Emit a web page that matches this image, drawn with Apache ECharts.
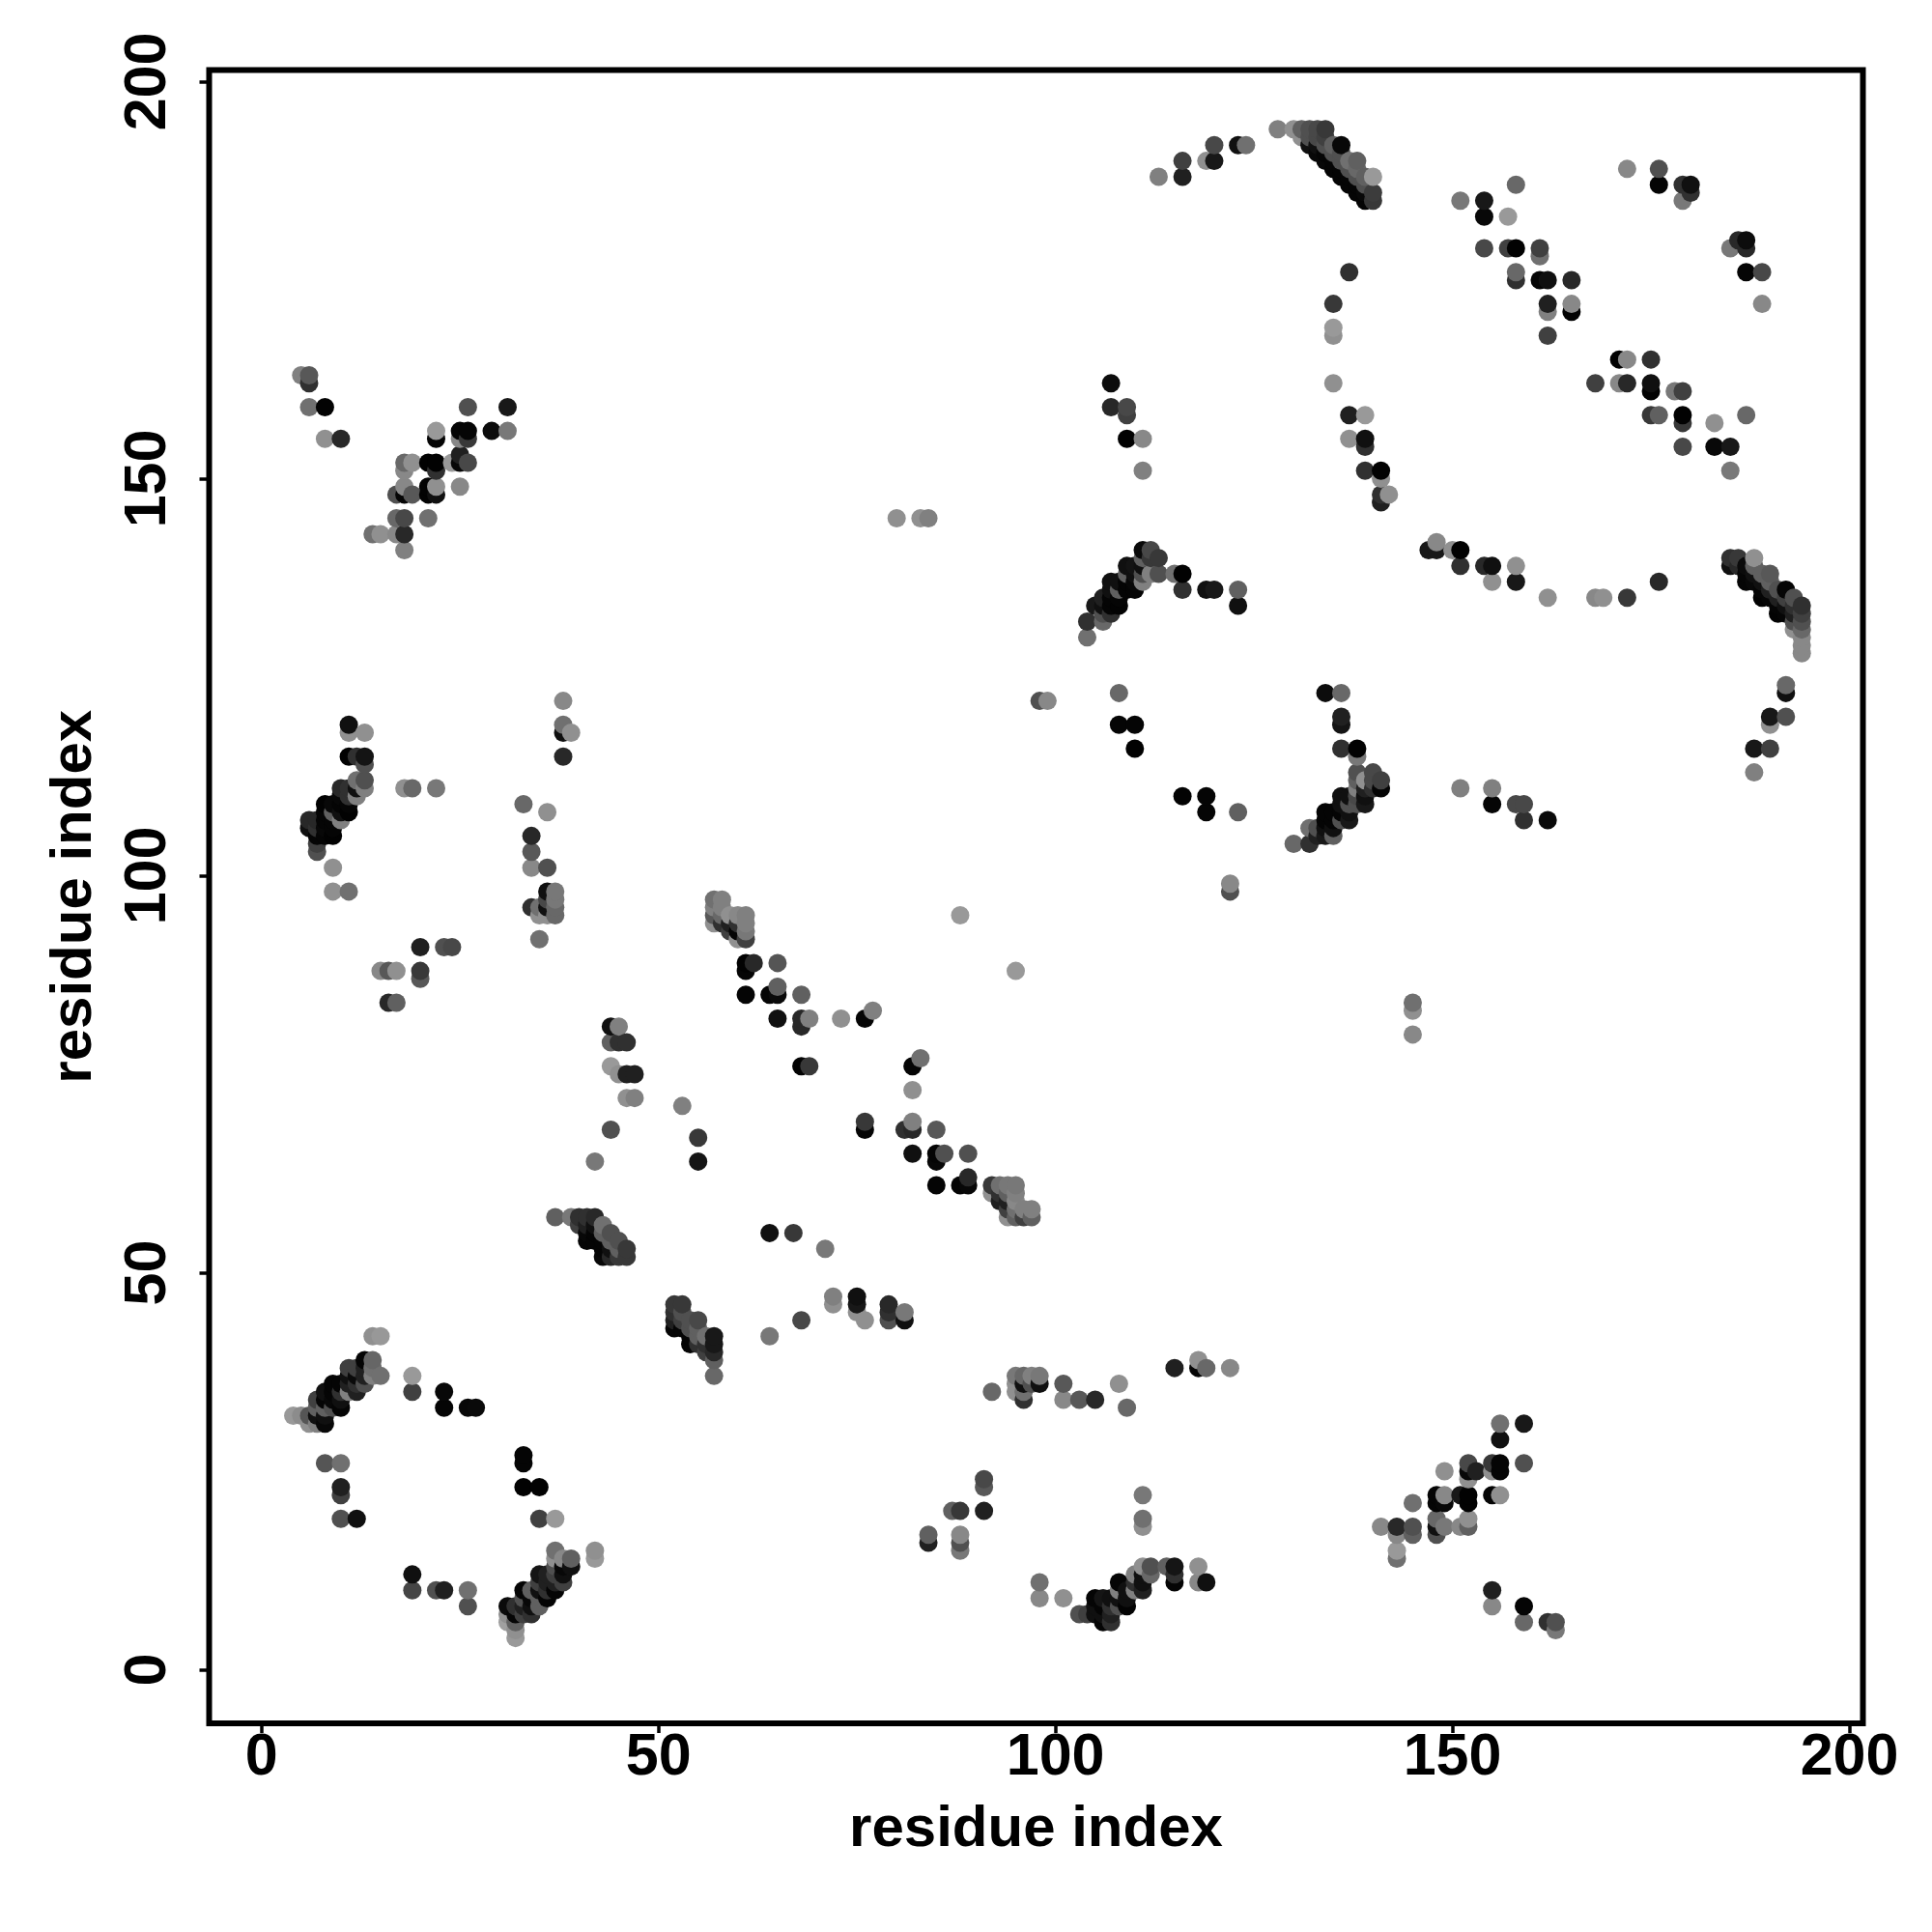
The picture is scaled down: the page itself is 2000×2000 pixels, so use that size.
<!DOCTYPE html>
<html><head><meta charset="utf-8">
<script src="https://cdn.jsdelivr.net/npm/echarts@6/dist/echarts.min.js"></script>
<style>html,body{margin:0;padding:0;background:#fff}#c{width:2000px;height:2000px}</style>
</head><body><div id="c"></div>
<script>
// each contact: [residue i, residue j, grey shade]
const contactsA = [[4,32,0x99],[5,32,0x8c],[6,32,0x55],[6,31,0x90],[7,31,0x80],[7,34,0x40],[7,33,0x60],[7,32,0x10],[8,31,0x08],[8,35,0x10],[8,34,0x05],[8,33,0x60],[8,32,0x10],[9,36,0x05],[9,35,0x05],[9,34,0x08],[9,33,0x50],[10,33,0x05],[10,34,0x10],[10,35,0x30],[10,36,0x05],[11,35,0x80],[11,36,0x20],[11,37,0x10],[11,38,0x40],[12,35,0x20],[12,36,0x30],[12,37,0x0a],[12,38,0x40],[13,36,0x50],[13,37,0x20],[13,38,0x20],[13,39,0x05],[14,37,0x80],[14,38,0x70],[14,39,0x66],[15,37,0x70],[14,42,0x90],[15,42,0x98],[19,37,0x99],[19,35,0x40],[23,35,0x08],[23,33,0x05],[26,33,0x08],[27,33,0x0a],[8,26,0x55],[10,26,0x70],[10,22,0x40],[10,23,0x20],[10,19,0x50],[12,19,0x10],[33,27,0x05],[33,26,0x05],[33,23,0x02],[35,23,0x02],[35,19,0x40],[37,19,0x99],[19,12,0x10],[19,10,0x45],[22,10,0x50],[23,10,0x20],[26,10,0x70],[26,8,0x50]];
const contactsB = [[32,4,0x99],[32,5,0x90],[32,6,0x60],[31,6,0xa0],[31,7,0x90],[31,8,0x0a],[32,7,0x05],[32,8,0x30],[33,7,0x40],[33,8,0x20],[33,9,0x50],[33,10,0x05],[34,7,0x30],[34,8,0x10],[34,9,0x08],[34,10,0x60],[35,8,0x60],[35,9,0x60],[35,10,0x10],[35,11,0x40],[35,12,0x15],[36,9,0x05],[36,10,0x30],[36,11,0x20],[36,12,0x20],[37,10,0x05],[37,11,0x20],[37,12,0x40],[37,13,0x50],[37,14,0x90],[37,15,0x70],[38,11,0x40],[38,12,0x10],[38,13,0x08],[38,14,0x88],[39,13,0x10],[39,14,0x60],[42,15,0x90],[42,14,0x99]];
const contactsC = [[113,188,0x80],[116,190,0x40],[116,188,0x20],[119,190,0x90],[120,190,0x18],[120,192,0x48],[123,192,0x10],[124,192,0x70],[128,194,0x80],[130,194,0x90],[131,194,0x60],[132,194,0x50],[133,194,0x48],[134,194,0x38],[131,193,0x90],[132,193,0x50],[133,193,0x48],[134,193,0x40],[132,192,0x10],[133,192,0x10],[134,192,0x50],[135,192,0x60],[136,192,0x08],[133,191,0x08],[134,191,0x05],[135,191,0x50],[136,191,0x50],[134,190,0x08],[135,190,0x05],[136,190,0x50],[137,190,0x70],[135,189,0x05],[136,189,0x05],[137,189,0x50],[138,189,0x68],[138,190,0x60],[136,188,0x05],[137,188,0x05],[138,188,0x50],[139,188,0x60],[140,188,0x99],[137,187,0x05],[138,187,0x05],[139,187,0x50],[138,186,0x05],[139,186,0x08],[140,186,0x3c],[139,185,0x05],[140,185,0x38],[137,176,0x30],[135,172,0x38],[135,169,0x99],[135,168,0x90],[135,162,0x90],[137,158,0x20],[139,158,0x99],[137,155,0x90],[139,155,0x10],[139,154,0x30],[139,151,0x30],[141,151,0x02],[141,150,0x90],[141,148,0x30],[142,148,0x90],[141,147,0x20],[107,162,0x0c],[107,159,0x28],[109,159,0x48],[109,158,0x40],[109,155,0x02],[111,155,0x88],[111,151,0x80]];
const contactsD = [[151,185,0x78],[154,185,0x18],[154,183,0x08],[157,183,0x99],[158,187,0x68],[154,179,0x48],[157,179,0x40],[158,179,0x02],[161,179,0x40],[161,178,0x70],[158,176,0x68],[158,175,0x30],[161,175,0x05],[162,175,0x10],[165,175,0x28],[162,172,0x20],[162,171,0x80],[165,172,0x88],[165,171,0x02],[162,168,0x40],[171,165,0x02],[172,165,0x88],[175,165,0x30],[168,162,0x40],[171,162,0x88],[172,162,0x28],[175,162,0x10],[175,161,0x03],[178,161,0x78],[179,161,0x40],[175,158,0x38],[176,158,0x60],[179,158,0x02],[179,157,0x38],[183,157,0x90],[187,158,0x68],[179,154,0x48],[183,154,0x08],[185,154,0x18],[185,151,0x78],[172,189,0x88],[176,189,0x50],[176,187,0x05],[179,187,0x30],[180,187,0x10],[180,186,0x30],[179,185,0x78],[185,179,0x78],[186,180,0x28],[187,179,0x28],[187,180,0x0c],[187,176,0x05],[189,176,0x48],[189,172,0x88]];
const contactsE = [[5,163,0x80],[6,163,0x58],[6,162,0x30],[6,159,0x70],[8,159,0x03],[8,155,0x90],[10,155,0x28],[26,159,0x50],[31,159,0x18],[22,156,0x99],[22,155,0x05],[25,156,0x05],[26,156,0x05],[25,155,0x88],[26,155,0x38],[29,156,0x0c],[31,156,0x78],[25,153,0x20],[25,152,0x08],[26,152,0x48],[24,152,0x99],[21,152,0x02],[22,152,0x02],[22,151,0x30],[18,152,0x68],[19,152,0x90],[18,151,0x88],[18,149,0x88],[19,148,0x58],[17,148,0x50],[18,148,0x05],[21,149,0x03],[21,148,0x03],[22,148,0x10],[22,149,0x90],[25,149,0x88],[21,145,0x70],[17,145,0x68],[18,145,0x48],[14,143,0x70],[15,143,0x90],[17,143,0x88],[18,143,0x28],[18,141,0x80]];
const contactsF = [[38,122,0x88],[38,119,0x70],[38,118,0x10],[39,118,0x90],[38,115,0x28],[11,119,0x10],[11,118,0x90],[13,118,0x90],[11,115,0x02],[12,115,0x30],[13,115,0x14],[13,114,0x50],[18,111,0x90],[19,111,0x68],[22,111,0x78],[12,112,0x70],[13,112,0x50],[13,111,0x80],[12,110,0x80],[12,111,0x10],[11,108,0x02],[11,109,0x05],[11,110,0x30],[11,111,0x30],[10,107,0x80],[10,108,0x10],[10,109,0x05],[10,110,0x08],[10,111,0x28],[9,105,0x02],[9,106,0x05],[9,107,0x05],[9,108,0x60],[9,109,0x08],[8,105,0x05],[8,106,0x08],[8,107,0x05],[8,108,0x05],[8,109,0x02],[7,103,0x50],[7,104,0x40],[7,105,0x05],[7,106,0x30],[7,107,0x28],[6,106,0x10],[6,107,0x28],[9,101,0x90],[9,98,0x90],[11,98,0x70],[33,109,0x68],[36,108,0x90],[34,105,0x28],[34,103,0x58],[34,101,0x88],[36,101,0x50],[36,98,0x10],[37,98,0x78],[37,97,0x78],[37,96,0x68],[37,95,0x68],[34,96,0x30],[35,96,0x70],[35,95,0x90],[36,95,0x90],[36,96,0x10],[36,97,0x48],[35,92,0x70],[20,91,0x20],[23,91,0x50],[24,91,0x48],[15,88,0x88],[16,88,0x58],[17,88,0x90],[20,88,0x38],[20,87,0x58],[16,84,0x28],[17,84,0x60]];
const contactsG = [[104,130,0x70],[104,132,0x30],[106,132,0x68],[105,134,0x18],[106,135,0x20],[106,133,0x50],[106,134,0x10],[107,133,0x30],[107,134,0x05],[107,135,0x05],[107,136,0x10],[107,137,0x10],[108,134,0x03],[108,135,0x05],[108,136,0x60],[108,137,0x10],[109,136,0x05],[109,137,0x05],[109,138,0x60],[109,139,0x10],[110,136,0x05],[110,137,0x08],[110,138,0x10],[110,139,0x14],[111,137,0x80],[111,138,0x50],[111,139,0x10],[111,140,0x60],[111,141,0x0a],[112,138,0x80],[112,140,0x38],[112,141,0x48],[113,138,0x50],[113,140,0x38],[115,138,0x70],[116,138,0x02],[116,136,0x30],[119,136,0x10],[120,136,0x18],[123,136,0x60],[123,134,0x10],[108,123,0x68],[108,119,0x05],[110,119,0x05],[110,116,0x02],[116,110,0x03],[119,110,0x05],[119,108,0x05],[123,108,0x60],[122,99,0x88],[122,98,0x50],[134,123,0x0c],[136,123,0x68],[136,120,0x20],[136,119,0x14],[136,116,0x30],[138,116,0x02],[138,115,0x78],[138,113,0x50],[140,113,0x48],[141,112,0x40],[141,111,0x05],[139,112,0x90],[140,112,0x48],[138,112,0x60],[138,111,0x80],[139,111,0x20],[140,111,0x30],[139,109,0x18],[139,110,0x10],[138,109,0x50],[138,110,0x48],[137,107,0x18],[137,108,0x10],[137,109,0x50],[137,110,0x10],[136,107,0x50],[136,108,0x05],[136,109,0x10],[136,110,0x10],[135,105,0x60],[135,106,0x10],[135,107,0x05],[135,108,0x05],[134,105,0x18],[134,106,0x10],[134,107,0x05],[134,108,0x05],[132,106,0x70],[133,106,0x50],[133,105,0x20],[132,104,0x30],[130,104,0x68]];
const contactsH = [[147,141,0x18],[148,141,0x18],[148,142,0x88],[150,141,0x90],[151,141,0x02],[151,139,0x30],[154,139,0x28],[155,139,0x10],[155,137,0x90],[158,139,0x90],[158,137,0x18],[162,135,0x90],[168,135,0x88],[169,135,0x90],[172,135,0x38],[176,137,0x28],[185,140,0x30],[186,140,0x38],[185,139,0x10],[186,139,0x28],[188,140,0x90],[187,137,0x05],[187,138,0x05],[187,139,0x0a],[188,137,0x08],[188,138,0x10],[188,139,0x60],[189,135,0x02],[189,136,0x05],[189,137,0x10],[189,138,0x60],[190,135,0x05],[190,136,0x20],[190,137,0x60],[190,138,0x58],[191,133,0x03],[191,134,0x05],[191,135,0x20],[191,136,0x50],[192,133,0x05],[192,134,0x10],[192,135,0x40],[192,136,0x05],[193,131,0x90],[193,132,0x50],[193,133,0x20],[193,134,0x30],[193,135,0x50],[194,134,0x30],[194,133,0x40],[194,132,0x50],[194,131,0x68],[194,130,0x88],[194,129,0x88],[194,128,0x88],[192,124,0x68],[192,123,0x10],[190,120,0x18],[192,120,0x50],[190,119,0x90],[188,116,0x18],[190,116,0x40],[188,113,0x80],[151,111,0x80],[155,111,0x80],[155,109,0x05],[158,109,0x48],[159,109,0x48],[159,107,0x30],[162,107,0x0a],[145,84,0x70],[145,83,0x90],[145,80,0x88],[80,145,0x90],[83,145,0x90],[84,145,0x80],[98,122,0x50],[99,122,0x88]];
const contactsI = [[88,95,0x99],[95,88,0x99],[57,97,0x70],[58,97,0x80],[57,96,0x80],[58,96,0x80],[57,95,0x58],[57,94,0x90],[58,95,0x68],[58,94,0x30],[59,95,0x90],[60,95,0x88],[61,95,0x80],[61,94,0x80],[61,93,0x78],[60,94,0x30],[59,94,0x20],[59,93,0x40],[60,93,0x05],[60,92,0x90],[61,92,0x40],[61,89,0x02],[62,89,0x28],[61,88,0x05],[65,89,0x55],[61,85,0x05],[64,85,0x05],[65,85,0x0a],[65,86,0x60],[68,85,0x60],[65,82,0x10],[68,82,0x28],[68,81,0x28],[69,82,0x80],[73,82,0x90],[76,82,0x05],[77,83,0x80],[68,76,0x03],[69,76,0x38],[82,76,0x05],[83,77,0x70],[82,73,0x90],[76,69,0x38],[76,68,0x05],[81,68,0x30],[82,68,0x28],[82,69,0x80],[85,68,0x58],[82,65,0x10],[85,65,0x05],[85,64,0x08],[86,65,0x50],[89,65,0x50],[85,61,0x05],[88,61,0x05],[89,61,0x08],[89,62,0x28],[92,61,0x38],[93,61,0x70],[94,61,0x78],[95,61,0x78],[92,60,0x90],[93,60,0x30],[94,60,0x60],[95,60,0x80],[93,59,0x20],[94,59,0x20],[95,59,0x88],[94,58,0x40],[95,58,0x70],[94,57,0x90],[95,57,0x60],[96,57,0x40],[96,58,0x80],[97,58,0x80],[97,57,0x60]];
const contactsJ = [[44,81,0x10],[45,81,0x80],[44,79,0x60],[45,79,0x30],[46,79,0x30],[44,76,0x99],[45,75,0x90],[46,75,0x20],[47,75,0x20],[46,72,0x90],[47,72,0x80],[53,71,0x80],[44,68,0x50],[55,67,0x38],[55,64,0x15],[42,64,0x78],[37,57,0x60],[39,57,0x78],[40,57,0x30],[41,57,0x30],[42,57,0x28],[40,56,0x40],[41,56,0x20],[41,55,0x08],[41,54,0x05],[42,56,0x10],[43,56,0x70],[42,55,0x05],[43,55,0x60],[44,55,0x50],[42,54,0x05],[43,54,0x05],[44,54,0x60],[43,53,0x05],[43,52,0x08],[44,53,0x10],[44,52,0x28],[45,54,0x50],[45,53,0x60],[45,52,0x38],[46,53,0x38],[46,52,0x38],[64,55,0x10],[67,55,0x38],[71,53,0x78],[72,47,0x80],[72,46,0x90],[75,47,0x10],[75,46,0x18],[75,45,0x90],[76,44,0x90],[79,46,0x28],[79,45,0x30],[79,44,0x50],[81,45,0x78],[81,44,0x10],[68,44,0x48],[64,42,0x78]];
const contactsK = [[52,46,0x38],[53,46,0x38],[52,45,0x30],[52,44,0x20],[52,43,0x05],[53,45,0x50],[53,44,0x40],[53,43,0x05],[54,44,0x50],[54,43,0x50],[54,42,0x05],[54,41,0x05],[55,44,0x48],[55,43,0x60],[55,42,0x60],[55,41,0x30],[56,42,0x70],[56,41,0x30],[56,40,0x40],[57,42,0x18],[57,41,0x18],[57,40,0x28],[57,39,0x60],[57,37,0x68],[92,35,0x68],[95,37,0x78],[96,37,0x68],[97,37,0x80],[98,37,0x78],[98,36,0x10],[96,36,0x10],[97,36,0x50],[95,35,0x90],[96,35,0x70],[96,34,0x30],[95,36,0x90],[101,36,0x58],[101,34,0x88],[103,34,0x58],[105,34,0x28],[108,36,0x90],[109,33,0x68],[91,24,0x48],[91,23,0x58],[91,20,0x20],[87,20,0x60],[88,20,0x38],[84,17,0x60],[84,16,0x20],[88,17,0x88],[88,16,0x50],[88,15,0x78],[98,11,0x70],[98,9,0x88],[101,9,0x90]];
const contactsL = [[115,38,0x20],[118,39,0x90],[118,38,0x05],[119,38,0x68],[122,38,0x88],[111,22,0x78],[111,19,0x70],[111,18,0x90],[103,7,0x50],[104,7,0x40],[105,9,0x05],[105,8,0x10],[105,7,0x10],[106,9,0x15],[106,8,0x05],[106,7,0x10],[106,6,0x05],[107,9,0x10],[107,8,0x30],[107,7,0x20],[107,6,0x30],[108,11,0x05],[108,10,0x80],[108,9,0x10],[108,8,0x50],[109,10,0x10],[109,9,0x10],[109,8,0x03],[110,12,0x80],[110,11,0x30],[110,10,0x80],[111,13,0x90],[111,12,0x10],[111,11,0x10],[111,10,0x20],[112,13,0x50],[112,12,0x68],[114,13,0x60],[115,13,0x15],[115,12,0x30],[115,11,0x05],[118,13,0x90],[118,11,0x88],[119,11,0x10],[156,31,0x70],[159,31,0x18],[156,29,0x10],[159,26,0x50],[155,26,0x38],[156,26,0x05],[155,25,0x90],[156,25,0x05],[152,26,0x48],[152,25,0x08],[153,25,0x20],[152,24,0x90],[149,25,0x90],[148,22,0x05],[149,22,0x88],[148,21,0x05],[149,21,0x08],[151,22,0x18],[152,22,0x02],[152,21,0x02],[155,22,0x05],[156,22,0x90],[145,21,0x70],[141,18,0x88],[143,18,0x28],[145,18,0x50],[143,17,0x88],[145,17,0x60],[143,15,0x99],[143,14,0x70],[148,19,0x68],[148,18,0x10],[148,17,0x50],[149,18,0x78],[151,18,0x88],[152,19,0x90],[152,18,0x60],[155,10,0x20],[155,8,0x88],[159,8,0x05],[159,6,0x68],[162,6,0x30],[163,6,0x50],[163,5,0x78]];
const tickValues = [0, 50, 100, 150, 200];
const axisTitle = "residue index";

const contacts = [].concat(contactsA, contactsB, contactsC, contactsD, contactsE, contactsF,
  contactsG, contactsH, contactsI, contactsJ, contactsK, contactsL)
  .sort((a, b) => a[0] - b[0] || a[1] - b[1]);

const FONT = '"Liberation Sans"';
const chart = echarts.init(document.getElementById('c'), null, {renderer: 'canvas'});
function axis(extra) {
  return Object.assign({
    type: 'value', name: axisTitle, nameLocation: 'middle',
    nameTextStyle: {fontFamily: FONT, fontWeight: 'bold', fontSize: 60, color: '#000'},
    axisLine: {show: false, onZero: false},
    splitLine: {show: false},
    minorTick: {show: false}
  }, extra);
}
chart.setOption({
  animation: false,
  backgroundColor: '#fff',
  grid: {left: 216.5, top: 72.5, width: 1712, height: 1711.5, show: true, borderColor: '#000', borderWidth: 6, backgroundColor: 'transparent'},
  xAxis: axis({
    min: -6.59, max: 201.7, nameGap: 80,
    axisTick: {show: true, length: 10, lineStyle: {color: '#000', width: 3.5}, customValues: tickValues},
    axisLabel: {show: true, margin: 6, fontFamily: FONT, fontWeight: 'bold', fontSize: 61, color: '#000', customValues: tickValues, hideOverlap: false, showMinLabel: true, showMaxLabel: true}
  }),
  yAxis: axis({
    min: -6.75, max: 201.45, nameGap: 109,
    axisTick: {show: true, length: 10, lineStyle: {color: '#000', width: 3.5}, customValues: tickValues},
    axisLabel: {show: true, margin: 32, rotate: 90, fontFamily: FONT, fontWeight: 'bold', fontSize: 61, color: '#000', customValues: tickValues, hideOverlap: false, showMinLabel: true, showMaxLabel: true}
  }),
  series: [{
    type: 'scatter', symbol: 'circle', symbolSize: 19, large: false, progressive: 0,
    clip: false, silent: true,
    data: contacts,
    encode: {x: 0, y: 1},
    itemStyle: {opacity: 1, color: p => { const g = p.value[2]; return 'rgb(' + g + ',' + g + ',' + g + ')'; }}
  }]
});
</script></body></html>
